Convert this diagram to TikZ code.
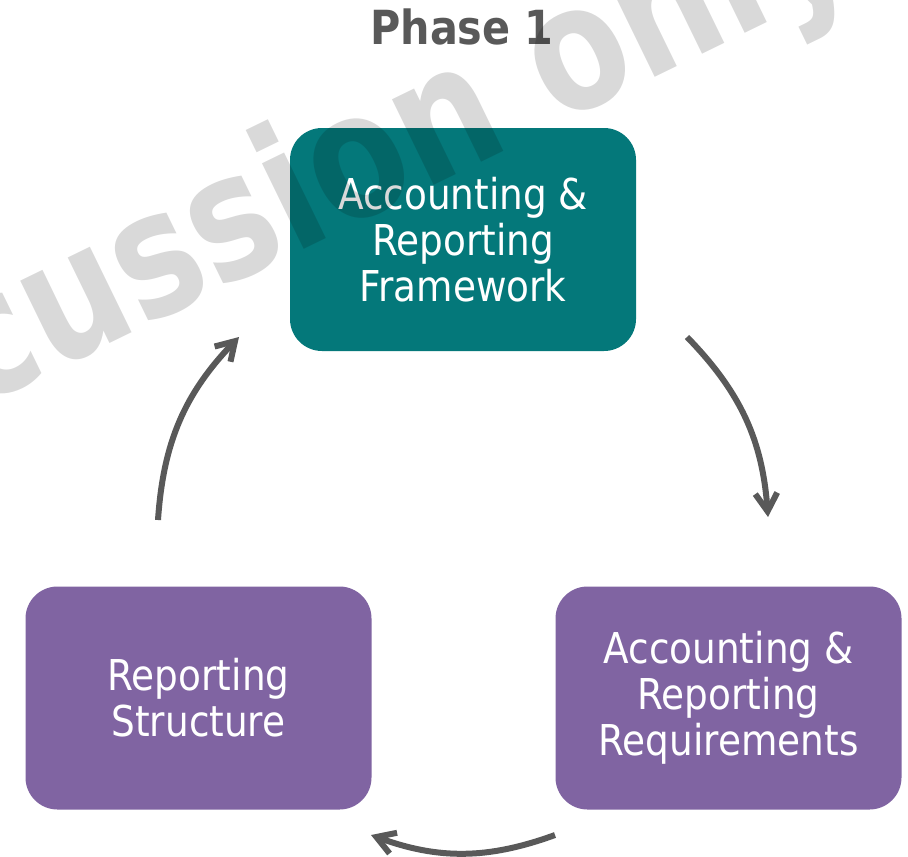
\documentclass[tikz,border=0pt]{standalone}
\usepackage{fontspec}
\setmainfont{DejaVu Sans}[FakeStretch=0.88]
\newfontfamily\wmfont{DejaVu Sans}[FakeStretch=0.81]
\usetikzlibrary{arrows.meta}
\definecolor{fwteal}{RGB}{4,120,122}
\definecolor{boxpurple}{RGB}{128,100,162}
\definecolor{arrowgray}{RGB}{89,89,89}

\begin{document}
\begin{tikzpicture}[x=0.5pt,y=-0.5pt,
  box/.style={rounded corners=16pt, minimum width=173pt, minimum height=111.5pt,
    align=center, text=white, font=\fontsize{21.25pt}{23pt}\selectfont},
  cyc/.style={draw=arrowgray, line width=3pt, -{Straight Barb[length=9pt,width=11pt]}, bend left=20}]
  \useasboundingbox (0,0) rectangle (908,856);
  \node[font=\bfseries\fontsize{23.5pt}{26pt}\selectfont, text=arrowgray, anchor=base] at (462,45) (title) {Phase 1};
  \node[box, fill=fwteal] at (463,239.5) (fw) {Accounting \&\\Reporting\\Framework};
  \node[box, fill=boxpurple] at (728.5,698) (req) {Accounting \&\\Reporting\\Requirements};
  \node[box, fill=boxpurple] at (198.5,698) (struct) {Reporting\\Structure};
  % free ends of the cycle arrows
  \coordinate (fw out) at (687,337);
  \coordinate (req in) at (768,517);
  \coordinate (req out) at (555,835);
  \coordinate (struct in) at (371,835);
  \coordinate (struct out) at (158,520);
  \coordinate (fw in) at (239,337);
  \draw[cyc] (fw out) to (req in);
  \draw[cyc] (req out) to (struct in);
  \draw[cyc] (struct out) to (fw in);
  % watermark
  \begin{scope}
    \clip (0,0) rectangle (908,856);
    \node[rotate=26, anchor=base, text=black, text opacity=0.15,
      font=\wmfont\bfseries\fontsize{87pt}{87pt}\selectfont] at (176.8,310.8) (wm) {For discussion only};
  \end{scope}
\end{tikzpicture}
\end{document}
